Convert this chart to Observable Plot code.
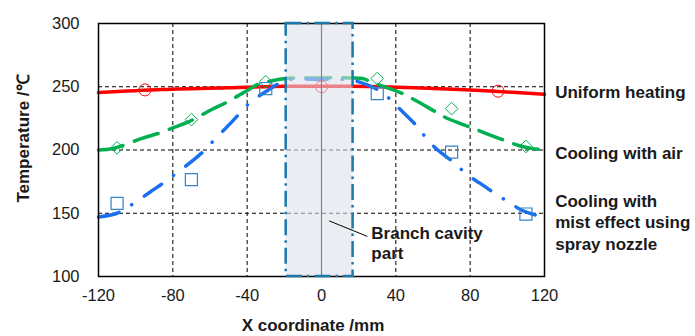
<!DOCTYPE html>
<html><head><meta charset="utf-8">
<script src="https://cdn.jsdelivr.net/npm/d3@7"></script>
<script src="https://cdn.jsdelivr.net/npm/@observablehq/plot@0.6"></script>
<style>
body{margin:0;background:#fff;}
svg{font-family: Arial, "Liberation Sans", sans-serif;}
</style>
</head><body><div id="chart"></div>
<script>
// ---- data ----
const xTicks = [-120, -80, -40, 0, 40, 80, 120];
const yTicks = [100, 150, 200, 250, 300];
const gridXTicks = [-80, -40, 40, 80];
const gridYTicks = [150, 200, 250];

// Uniform heating (line)
const redX = [-120, -86, -50, -19, 0, 16, 50, 86, 120];
const redY = [245.4, 247.8, 249.3, 250.3, 250.3, 250.3, 249.2, 247.0, 244.0];
// Uniform heating (markers)
const redMX = [-95, 0, 95];
const redMY = [247.5, 250, 246.5];

// Cooling with air (line)
const greenX = [-120, -112, -97, -86, -79, -72, -59, -52, -40, -34, -27, -19, 0, 16, 22, 28, 43, 49, 61, 67, 80, 87, 100, 106, 113, 120];
const greenY = [200, 201.2, 209, 214, 218, 222, 232, 237, 247, 252, 254.6, 256.5, 257, 257, 256.5, 253, 245, 240.5, 230.5, 225.5, 218, 214, 206.7, 203.6, 201.3, 200];
// Cooling with air (markers)
const greenMX = [-110, -70, -30, 30, 70, 110];
const greenMY = [201.7, 224, 254, 256.5, 232.7, 202.8];

// Cooling with mist effect using spray nozzle (line)
const blueX = [-120, -110, -104, -92, -86, -80, -69, -63, -58, -48, -43, -38, -29, -19, 0, 17, 29, 35.5, 41, 51, 55.5, 61, 71, 77, 83, 86, 95, 101, 107, 113, 120];
const blueY = [147, 150, 155, 167, 173, 179.5, 192, 199.6, 207.5, 222.6, 230.6, 238, 247, 255, 255.8, 255, 248.6, 242, 234, 219.4, 211, 202, 190.3, 182.4, 175.8, 173, 164, 158.6, 153, 149.5, 147];
// (markers)
const blueMX = [-110, -70, -30, 30, 70, 110];
const blueMY = [157.8, 176.6, 248.6, 244.6, 198.3, 149.4];

// Branch cavity region
const cavityX1 = -19, cavityX2 = 17;

const seriesLabels = ["Uniform heating", "Cooling with air", "Cooling with\nmist effect using\nspray nozzle"];
const seriesLabelY = [246.4, 198, 143.3];

const zip = (xs, ys) => xs.map((x, i) => ({x, y: ys[i]}));
const red = zip(redX, redY), redM = zip(redMX, redMY);
const green = zip(greenX, greenY), greenM = zip(greenMX, greenMY);
const blue = zip(blueX, blueY), blueM = zip(blueMX, blueMY);

const cavity = [{x1: cavityX1, x2: cavityX2, y1: 100, y2: 300}];
const labels = seriesLabels.map((t, i) => ({x: 120, y: seriesLabelY[i], t}));

const chart = Plot.plot({
  width: 695,
  height: 336,
  marginLeft: 98,
  marginRight: 151,
  marginTop: 23,
  marginBottom: 60,
  x: {domain: [-120, 120]},
  y: {domain: [100, 300]},
  style: {fontFamily: "Arial, 'Liberation Sans', sans-serif", background: "#fff", color: "#1a1a1a"},
  marks: [
    Plot.gridX(gridXTicks, {stroke: "#000", strokeOpacity: 1, strokeWidth: 1, strokeDasharray: "4,3"}),
    Plot.gridY(gridYTicks, {stroke: "#000", strokeOpacity: 1, strokeWidth: 1, strokeDasharray: "4,3"}),
    Plot.axisX(xTicks, {tickSize: 0, tickPadding: 13, fontSize: 16.5, label: null, fill: "#1a1a1a", tickFormat: d => String(d)}),
    Plot.axisY(yTicks, {tickSize: 0, tickPadding: 19, fontSize: 16.5, label: null, fill: "#1a1a1a", tickFormat: d => String(d)}),
    Plot.line(red, {x: "x", y: "y", stroke: "#ff0000", strokeWidth: 3.5, curve: "catmull-rom"}),
    Plot.line(green, {x: "x", y: "y", stroke: "#00b050", strokeWidth: 3.5, curve: "catmull-rom", strokeDasharray: "25,12"}),
    Plot.line(blue, {x: "x", y: "y", stroke: "#1a6ff0", strokeWidth: 3.5, curve: "catmull-rom", strokeDasharray: "21,15,0.1,15", strokeLinecap: "round"}),
    Plot.dot(redM, {x: "x", y: "y", r: 6, stroke: "#ff0000", strokeWidth: 1, fill: "none"}),
    Plot.dot(greenM, {x: "x", y: "y", r: 5.7, symbol: "diamond2", stroke: "#00b050", strokeWidth: 1, fill: "none"}),
    Plot.dot(blueM, {x: "x", y: "y", r: 6.8, symbol: "square", stroke: "#3383c8", strokeWidth: 1.2, fill: "none"}),
    Plot.ruleX([0], {stroke: "#000", strokeWidth: 1.2}),
    Plot.rect(cavity, {x1: "x1", x2: "x2", y1: "y1", y2: "y2", fill: "rgb(219,224,233)", fillOpacity: 0.58}),
    Plot.frame({stroke: "#000", strokeWidth: 1.5}),
    Plot.rect(cavity, {x1: "x1", x2: "x2", y1: "y1", y2: "y2", fill: "none", stroke: "#1f78aa", strokeWidth: 2.5, strokeDasharray: "16,5,2.5,5"}),
    Plot.link([{x1: 4.1, y1: 144, x2: 24.7, y2: 131.7}], {x1: "x1", y1: "y1", x2: "x2", y2: "y2", stroke: "#000", strokeWidth: 1}),
    Plot.text(["Branch cavity\npart"], {x: 26.8, y: 126.8, text: d => d, textAnchor: "start", lineAnchor: "middle", lineHeight: 1.18, fontSize: 17, fontWeight: "bold", fill: "#1a1a1a"}),
    Plot.text(labels, {x: "x", y: "y", text: "t", dx: 10.7, textAnchor: "start", lineAnchor: "middle", lineHeight: 1.24, fontSize: 17, fontWeight: "bold", fill: "#1a1a1a"}),
    Plot.text(["Temperature /℃"], {frameAnchor: "left", dx: -75, dy: -11.5, rotate: -90, textAnchor: "middle", lineAnchor: "middle", text: d => d, fontSize: 17, fontWeight: "bold", fill: "#1a1a1a"}),
    Plot.text(["X coordinate /mm"], {frameAnchor: "bottom", dx: -8.5, dy: 49, text: d => d, lineAnchor: "middle", fontSize: 17, fontWeight: "bold", fill: "#1a1a1a"})
  ]
});
document.getElementById("chart").appendChild(chart);
</script>
</body></html>
